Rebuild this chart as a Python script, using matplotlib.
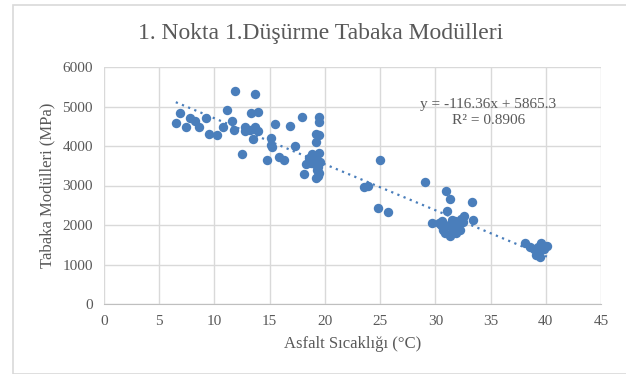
import numpy as np
import matplotlib.pyplot as plt
from matplotlib.patches import Rectangle

# Asfalt sıcaklığı (°C) ve tabaka modülleri (MPa)
sicaklik = [6.5, 6.9, 7.4, 7.8, 8.2, 8.6, 9.2, 9.5, 10.2, 10.8, 11.1, 11.6, 11.8, 11.9,
            12.5, 12.8, 12.8, 13.2, 13.3, 13.5, 13.7, 13.7, 13.9, 13.9, 13.6,
            15.1, 15.2, 15.1, 15.5, 14.8, 15.8, 16.3, 16.8, 17.3, 17.9, 18.1, 18.3,
            18.6, 18.8, 19.0, 18.9, 19.2, 19.2, 19.5, 19.5, 19.5, 19.5, 19.4, 19.5,
            19.2, 19.4, 19.2, 19.6, 19.1, 19.3, 18.7, 19.0,
            23.5, 23.9, 25.0, 24.8, 25.7, 29.1, 29.7, 30.3, 30.6, 30.7, 30.8, 31.0,
            31.1, 31.3, 33.3, 33.4, 32.6, 32.3, 32.0, 31.9, 31.3, 31.6, 30.9, 31.5,
            31.8, 32.2, 31.2, 30.5, 31.9, 32.5,
            38.1, 38.6, 38.9, 39.2, 39.1, 39.5, 39.6, 40.1, 39.3, 39.8, 39.4]
modul = [4590, 4830, 4490, 4700, 4640, 4490, 4720, 4300, 4280, 4470, 4910, 4630, 4410, 5400,
         3810, 4470, 4390, 4400, 4830, 4180, 5310, 4490, 4850, 4380, 4430,
         4190, 3980, 4020, 4560, 3640, 3720, 3640, 4500, 4000, 4730, 3290, 3540,
         3700, 3800, 3600, 3660, 4300, 4100, 4740, 4600, 4290, 3820, 3480, 3320,
         3190, 3250, 3720, 3600, 3550, 3400, 3560, 3750,
         2970, 2980, 3640, 2420, 2340, 3090, 2040, 2060, 2100, 1870, 1950, 2870,
         2350, 2670, 2590, 2130, 2230, 2150, 1980, 1800, 1730, 1850, 1810, 2130,
         2100, 1870, 2000, 2000, 2060, 2070,
         1550, 1450, 1400, 1300, 1230, 1200, 1550, 1470, 1450, 1400, 1350]

# Doğrusal eğilim çizgisi katsayıları (grafikteki denklem)
egim = -116.36
kesisim = 5865.3
r2 = 0.8906

gri = '#595959'
mavi = '#4a7ebb'
plt.rcParams['font.family'] = ['Liberation Serif', 'DejaVu Serif']

fig = plt.figure(figsize=(6.26, 3.74), dpi=100)
fig.patches.append(Rectangle((13 / 626, 0.0), 1.0, 1 - 5 / 374, transform=fig.transFigure,
                             fill=False, edgecolor='#d9d9d9', linewidth=1.2))
ax = fig.add_axes([104 / 626, 70 / 374, 497 / 626, 237 / 374])

ax.scatter(sicaklik, modul, s=46, color=mavi, zorder=3, linewidths=0)
xt = np.array([min(sicaklik), max(sicaklik)])
ax.plot(xt, egim * xt + kesisim, linestyle=(0, (1, 2)), color=mavi, linewidth=1.6, zorder=4)

ax.set_xlim(0, 45)
ax.set_ylim(0, 6000)
ax.set_xticks(range(0, 46, 5))
ax.set_yticks(range(0, 6001, 1000))
ax.grid(True, color='#d9d9d9', linewidth=1)
ax.set_axisbelow(True)
for s in ['top', 'right', 'left']:
    ax.spines[s].set_visible(False)
ax.spines['bottom'].set_color('#bfbfbf')
ax.tick_params(length=0, labelsize=11, labelcolor=gri, pad=8)

fig.text(321 / 626, 1 - 33 / 374, '1. Nokta 1.Düşürme Tabaka Modülleri', fontsize=17,
         color=gri, ha='center', va='center')
ax.set_xlabel('Asfalt Sıcaklığı (°C)', fontsize=12, color=gri, labelpad=6)
ax.set_ylabel('Tabaka Modülleri (MPa)', fontsize=12, color=gri, labelpad=5)

ax.text(34.8, 5060, f'y = {egim}x + {kesisim}', fontsize=11, color=gri, ha='center', va='center')
ax.text(34.8, 4640, f'R² = {r2}', fontsize=11, color=gri, ha='center', va='center')

fig.savefig('out.png', dpi=100)
